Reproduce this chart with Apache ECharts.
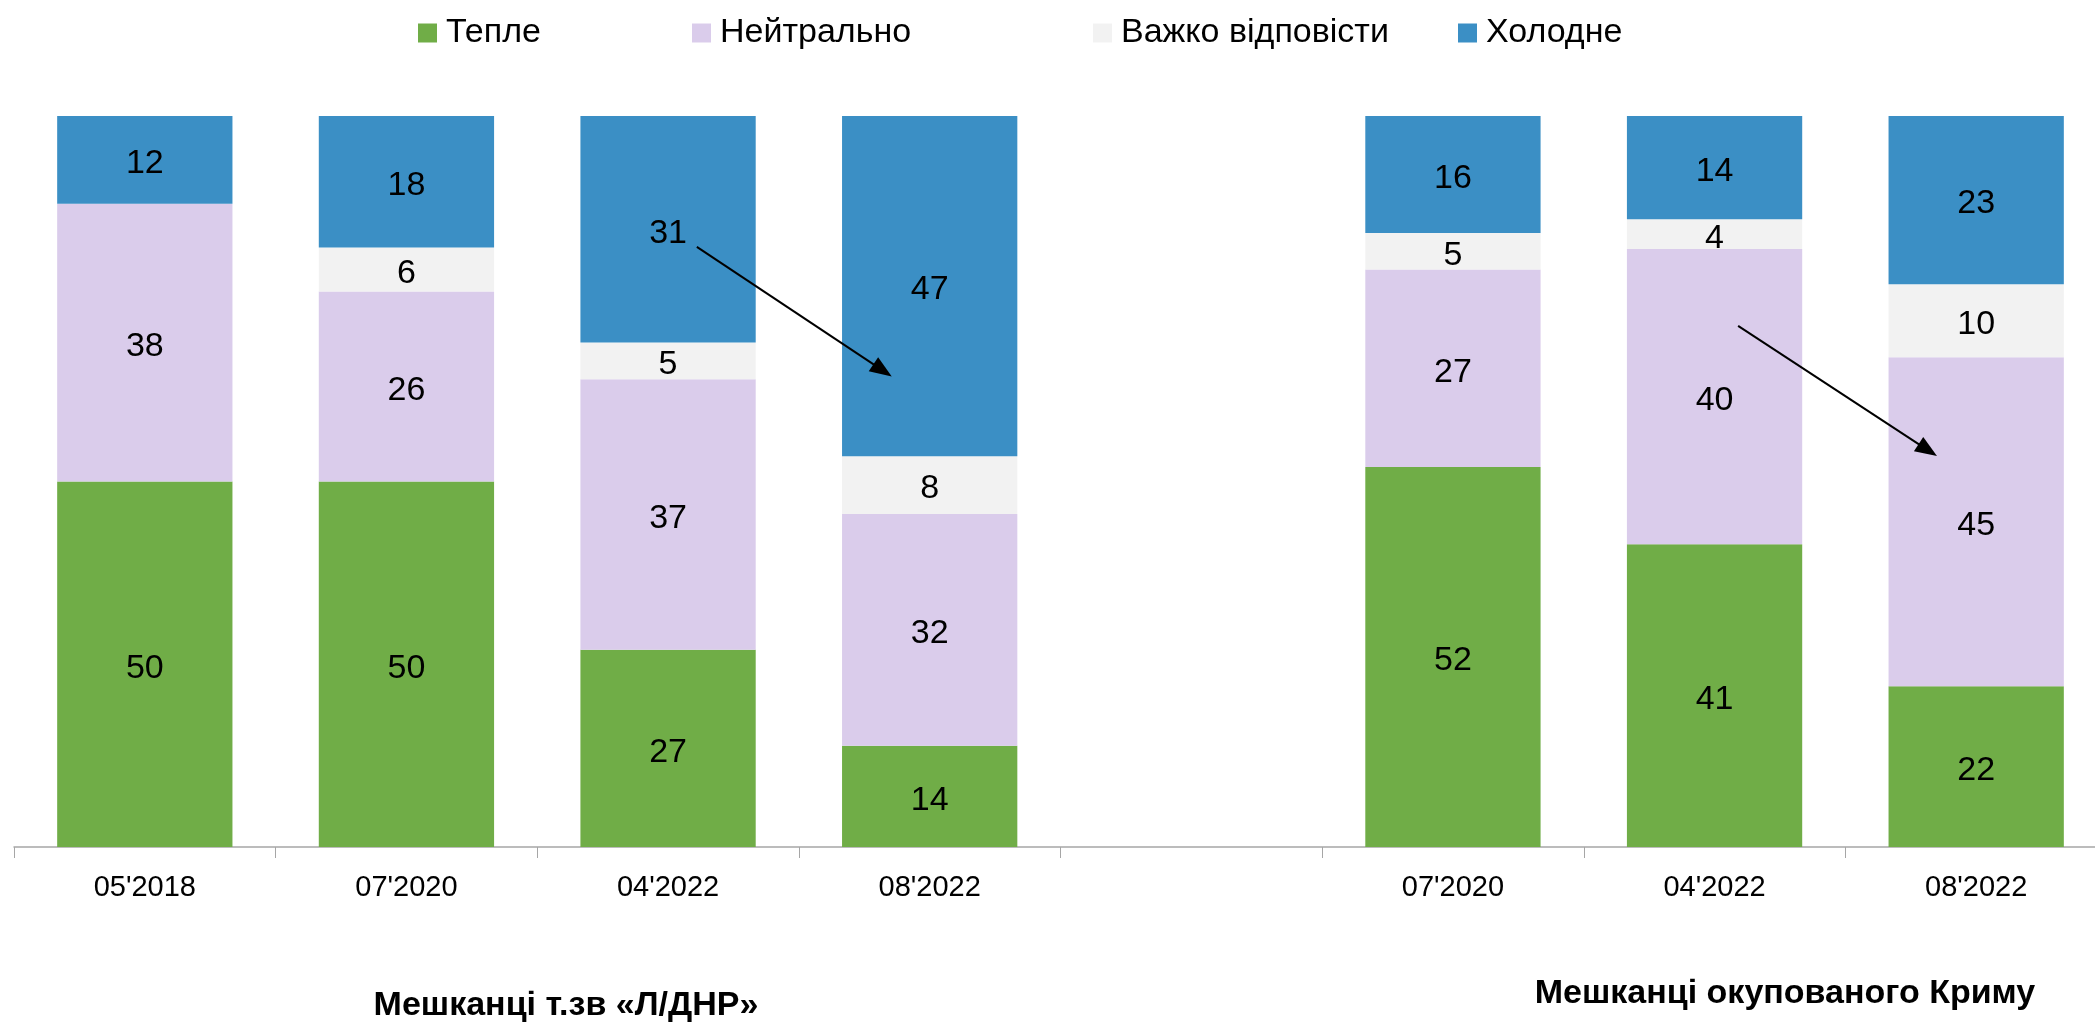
<!DOCTYPE html>
<html>
<head>
<meta charset="utf-8">
<script src="https://cdn.jsdelivr.net/npm/echarts@6/dist/echarts.min.js"></script>
<style>
html,body{margin:0;padding:0;background:#fff;}
#chart{width:2095px;height:1023px;}
</style>
</head>
<body>
<div id="chart"></div>
<script>
// дані
var periods = ["05'2018", "07'2020", "04'2022", "08'2022", "", "07'2020", "04'2022", "08'2022"];
var warm    = [50, 50, 27, 14, null, 52, 41, 22];
var neutral = [38, 26, 37, 32, null, 27, 40, 45];
var hard    = [null, 6, 5, 8, null, 5, 4, 10];
var cold    = [12, 18, 31, 47, null, 16, 14, 23];
var seriesNames = ['Тепле', 'Нейтрально', 'Важко відповісти', 'Холодне'];
var colors = ['#70AD47', '#DACCEB', '#F2F2F2', '#3B8FC5'];
var groupTitles = ['Мешканці т.зв «Л/ДНР»', 'Мешканці окупованого Криму'];

var FONT = '"Liberation Sans Narrow", "Arial Narrow", "Liberation Sans", Arial, sans-serif';

var chart = echarts.init(document.getElementById('chart'));

// 100% stacked: частка від суми в стовпчику
var all = [warm, neutral, hard, cold];
var totals = periods.map(function(p, i) {
    var s = 0;
    all.forEach(function(arr) { s += arr[i] || 0; });
    return s;
});
function shares(arr) {
    return arr.map(function(v, i) {
        if (v == null) return {value: null, raw: null};
        return {value: v / totals[i] * 100, raw: v};
    });
}

var series = all.map(function(arr, k) {
    return {
        name: seriesNames[k],
        type: 'bar',
        stack: 'total',
        barCategoryGap: '33%',
        data: shares(arr),
        itemStyle: {color: colors[k]},
        label: {
            show: true,
            position: 'inside',
            offset: [0, 4],
            color: '#000',
            fontFamily: FONT,
            fontSize: 34,
            formatter: function(p) { return p.data.raw == null ? '' : p.data.raw; }
        },
        emphasis: {disabled: true}
    };
});

var legendLeft = [418, 692, 1093, 1458];
var legends = seriesNames.map(function(n, k) {
    return {
        data: [n],
        left: legendLeft[k],
        top: 16,
        padding: 0,
        itemWidth: 19,
        itemHeight: 19,
        icon: 'rect',
        selectedMode: false,
        textStyle: {fontFamily: FONT, fontSize: 34, color: '#000', padding: [0, 0, 0, 4]}
    };
});

var option = {
    animation: false,
    backgroundColor: '#fff',
    legend: legends,
    // вісь виходить за правий край картинки
    grid: {left: 14, top: 116, width: 2093, height: 731, containLabel: false, outerBoundsMode: 'none'},
    xAxis: {
        type: 'category',
        data: periods,
        axisLine: {lineStyle: {color: '#A6A6A6', width: 1.5}},
        axisTick: {show: true, length: 11, lineStyle: {color: '#A6A6A6'}},
        axisLabel: {fontFamily: FONT, fontSize: 29, color: '#000', margin: 26, interval: 0}
    },
    yAxis: {type: 'value', min: 0, max: 100, show: false, splitLine: {show: false}},
    graphic: [
        {type: 'text', x: 566, y: 1006, style: {text: groupTitles[0], fontFamily: FONT, fontSize: 34, fontWeight: 'bold', fill: '#000', textAlign: 'center', textVerticalAlign: 'middle'}},
        {type: 'text', x: 1785, y: 994, style: {text: groupTitles[1], fontFamily: FONT, fontSize: 34, fontWeight: 'bold', fill: '#000', textAlign: 'center', textVerticalAlign: 'middle'}}
    ],
    series: series
};

chart.setOption(option);

// стрілки: [категорія (дробова), відсоток]
var arrows = [
    [[2.11, 82.1], [2.82, 65.2]],
    [[6.09, 71.3], [6.815, 54.3]]
];
function toPx(pt) {
    var i0 = Math.floor(pt[0]);
    var a = chart.convertToPixel({xAxisIndex: 0, yAxisIndex: 0}, [i0, pt[1]]);
    var b = chart.convertToPixel({xAxisIndex: 0, yAxisIndex: 0}, [i0 + 1, pt[1]]);
    var f = pt[0] - i0;
    return {x: a[0] + (b[0] - a[0]) * f, y: a[1]};
}
chart.setOption({
    series: [{}, {}, {}, {
        markLine: {
            silent: true,
            symbol: ['none', 'triangle'],
            symbolSize: [17, 22],
            label: {show: false},
            lineStyle: {color: '#000', width: 2, type: 'solid'},
            emphasis: {disabled: true},
            data: arrows.map(function(a) { return [toPx(a[0]), toPx(a[1])]; })
        }
    }]
});
</script>
</body>
</html>
